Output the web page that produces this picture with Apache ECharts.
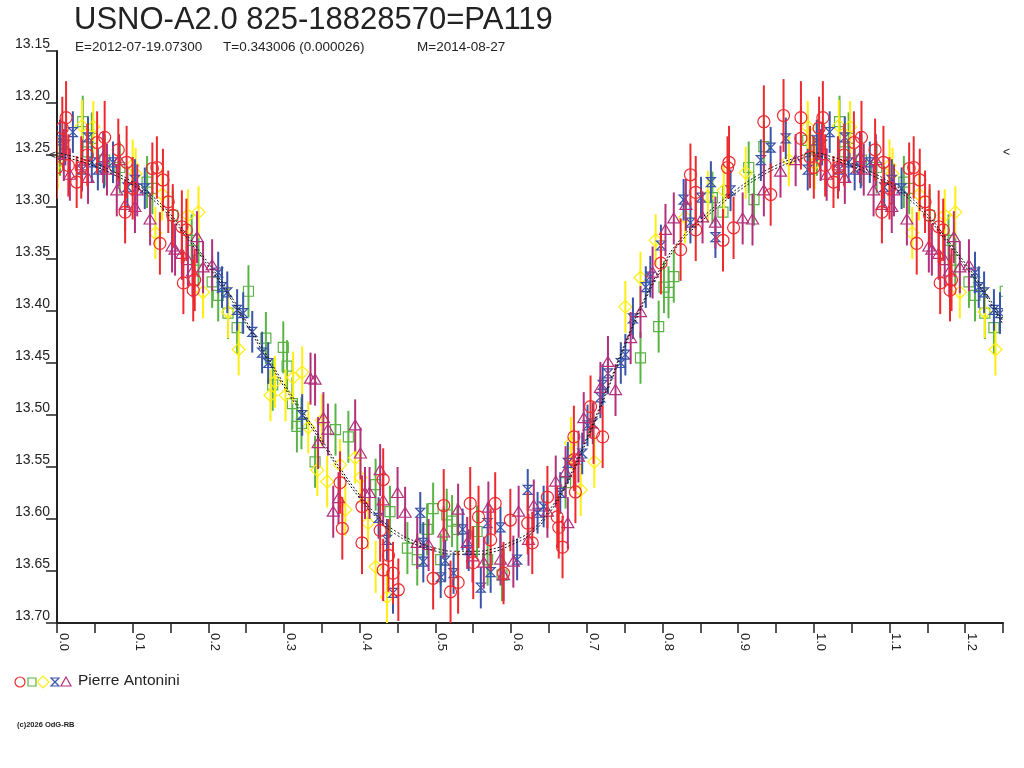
<!DOCTYPE html>
<html>
<head>
<meta charset="utf-8">
<script src="https://cdn.jsdelivr.net/npm/echarts@6/dist/echarts.min.js"></script>
<style>
  html, body { margin: 0; padding: 0; background: #fff; }
  #chart { width: 1024px; height: 768px; }
</style>
</head>
<body>
<div id="chart"></div>
<script>
// observations: [phase, magnitude, error]
const redPts = [
  [0.000,13.262,0.03],[0.007,13.224,0.03],[0.012,13.214,0.035],[0.015,13.260,0.03],[0.026,13.276,0.025],
  [0.032,13.262,0.03],[0.040,13.250,0.03],[0.053,13.238,0.03],[0.063,13.233,0.035],[0.081,13.245,0.03],
  [0.090,13.305,0.03],[0.092,13.257,0.035],[0.100,13.282,0.03],[0.126,13.263,0.025],[0.132,13.262,0.03],
  [0.136,13.335,0.03],[0.140,13.274,0.03],[0.147,13.295,0.03],[0.153,13.308,0.03],[0.165,13.319,0.035],
  [0.167,13.373,0.03],[0.171,13.322,0.03],[0.180,13.380,0.03],[0.182,13.370,0.03],
  [0.374,13.565,0.03],[0.377,13.609,0.03],[0.403,13.588,0.03],[0.403,13.623,0.03],[0.427,13.611,0.03],
  [0.431,13.562,0.03],[0.431,13.649,0.03],[0.438,13.635,0.035],[0.444,13.652,0.03],[0.451,13.668,0.03],
  [0.497,13.657,0.03],[0.511,13.587,0.035],[0.520,13.670,0.03],[0.530,13.661,0.03],[0.546,13.585,0.035],
  [0.550,13.642,0.035],[0.557,13.598,0.03],[0.573,13.620,0.03],[0.579,13.585,0.03],[0.590,13.652,0.03],
  [0.599,13.601,0.03],[0.622,13.604,0.03],[0.628,13.623,0.03],[0.648,13.579,0.03],[0.661,13.598,0.03],
  [0.663,13.608,0.03],[0.668,13.627,0.03],[0.683,13.521,0.03],[0.683,13.543,0.03],[0.685,13.574,0.03],
  [0.705,13.492,0.03],[0.709,13.517,0.03],[0.721,13.521,0.03],[0.798,13.354,0.03],[0.824,13.341,0.03],
  [0.837,13.269,0.03],[0.844,13.286,0.035],[0.844,13.322,0.03],[0.880,13.332,0.03],[0.886,13.262,0.03],
  [0.888,13.257,0.035],[0.894,13.320,0.03],[0.934,13.218,0.035],[0.943,13.288,0.03],[0.960,13.212,0.035],
  [0.983,13.214,0.035],[0.983,13.234,0.03],[0.995,13.252,0.03]
];
const greenPts = [
  [0.004,13.245,0.025],[0.034,13.218,0.025],[0.041,13.247,0.025],[0.046,13.234,0.025],[0.063,13.255,0.025],
  [0.083,13.262,0.025],[0.119,13.276,0.025],[0.126,13.282,0.025],[0.153,13.308,0.025],[0.178,13.332,0.025],
  [0.187,13.351,0.025],[0.205,13.372,0.025],[0.213,13.385,0.025],[0.226,13.402,0.025],[0.238,13.416,0.025],
  [0.253,13.381,0.025],[0.276,13.426,0.025],[0.285,13.471,0.025],[0.299,13.435,0.025],[0.304,13.453,0.025],
  [0.311,13.489,0.025],[0.317,13.511,0.025],[0.323,13.508,0.025],[0.341,13.545,0.025],[0.368,13.514,0.025],
  [0.385,13.521,0.025],[0.421,13.567,0.025],[0.440,13.593,0.025],[0.463,13.628,0.025],[0.476,13.639,0.025],
  [0.489,13.610,0.025],[0.497,13.590,0.025],[0.507,13.639,0.025],[0.515,13.596,0.025],[0.522,13.602,0.025],
  [0.529,13.610,0.025],[0.555,13.612,0.025],[0.569,13.639,0.025],[0.588,13.654,0.025],[0.672,13.565,0.025],
  [0.771,13.445,0.025],[0.795,13.415,0.025],[0.802,13.377,0.025],[0.808,13.382,0.025],[0.815,13.367,0.025],
  [0.866,13.291,0.025],[0.880,13.305,0.025],[0.914,13.262,0.025],[0.921,13.293,0.025],[0.934,13.242,0.025],
  [0.992,13.236,0.025]
];
const yellowPts = [
  [0.001,13.258,0.025],[0.033,13.222,0.025],[0.048,13.223,0.025],[0.100,13.260,0.025],[0.104,13.268,0.025],
  [0.130,13.325,0.025],[0.139,13.288,0.025],[0.173,13.308,0.025],[0.187,13.305,0.025],[0.193,13.382,0.025],
  [0.226,13.401,0.025],[0.240,13.437,0.025],[0.282,13.481,0.025],[0.288,13.468,0.025],[0.302,13.481,0.025],
  [0.312,13.464,0.025],[0.324,13.459,0.025],[0.332,13.512,0.025],[0.344,13.553,0.025],[0.350,13.505,0.025],
  [0.357,13.564,0.025],[0.374,13.548,0.025],[0.381,13.591,0.025],[0.394,13.541,0.025],[0.401,13.560,0.025],
  [0.411,13.604,0.025],[0.421,13.646,0.025],[0.436,13.675,0.025],[0.679,13.527,0.025],[0.692,13.572,0.025],
  [0.710,13.545,0.025],[0.751,13.396,0.025],[0.771,13.368,0.025],[0.791,13.332,0.025],[0.830,13.310,0.025],
  [0.860,13.290,0.025],[0.881,13.284,0.025],[0.910,13.267,0.025],[0.967,13.255,0.025],[0.992,13.223,0.025]
];
const bluePts = [
  [0.004,13.236,0.02],[0.011,13.240,0.02],[0.021,13.228,0.02],[0.033,13.264,0.02],[0.041,13.233,0.02],
  [0.046,13.257,0.02],[0.054,13.264,0.02],[0.062,13.262,0.02],[0.074,13.257,0.02],[0.093,13.281,0.02],
  [0.103,13.274,0.02],[0.116,13.282,0.02],[0.213,13.363,0.02],[0.218,13.377,0.02],[0.225,13.382,0.02],
  [0.238,13.399,0.02],[0.246,13.402,0.02],[0.258,13.420,0.02],[0.271,13.440,0.02],[0.279,13.450,0.02],
  [0.324,13.500,0.02],[0.425,13.599,0.02],[0.436,13.620,0.02],[0.444,13.671,0.02],[0.480,13.594,0.02],
  [0.484,13.623,0.02],[0.484,13.641,0.02],[0.507,13.656,0.02],[0.513,13.640,0.02],[0.524,13.652,0.02],
  [0.536,13.610,0.02],[0.544,13.630,0.02],[0.560,13.666,0.02],[0.569,13.604,0.02],[0.573,13.651,0.02],
  [0.586,13.608,0.02],[0.608,13.639,0.02],[0.622,13.572,0.02],[0.635,13.594,0.02],[0.643,13.588,0.02],
  [0.665,13.575,0.02],[0.675,13.546,0.02],[0.694,13.537,0.02],[0.701,13.510,0.02],[0.708,13.508,0.02],
  [0.718,13.483,0.02],[0.721,13.471,0.02],[0.728,13.460,0.02],[0.745,13.450,0.02],[0.751,13.442,0.02],
  [0.761,13.407,0.02],[0.778,13.377,0.02],[0.784,13.367,0.02],[0.798,13.337,0.02],[0.828,13.293,0.02],
  [0.837,13.315,0.02],[0.851,13.291,0.02],[0.864,13.276,0.02],[0.870,13.329,0.02],[0.890,13.284,0.02],
  [0.930,13.255,0.02],[0.943,13.243,0.02],[0.963,13.234,0.02],[0.992,13.264,0.02]
];
const purplePts = [
  [0.009,13.250,0.025],[0.017,13.269,0.025],[0.033,13.260,0.025],[0.041,13.272,0.025],[0.061,13.252,0.025],
  [0.066,13.264,0.025],[0.079,13.284,0.025],[0.082,13.255,0.025],[0.090,13.298,0.025],[0.103,13.300,0.025],
  [0.106,13.284,0.025],[0.123,13.312,0.025],[0.152,13.338,0.025],[0.156,13.341,0.025],[0.165,13.345,0.025],
  [0.173,13.351,0.025],[0.179,13.362,0.025],[0.185,13.329,0.025],[0.193,13.358,0.025],[0.205,13.356,0.025],
  [0.335,13.465,0.025],[0.341,13.466,0.025],[0.345,13.527,0.025],[0.352,13.503,0.025],[0.358,13.514,0.025],
  [0.365,13.593,0.025],[0.372,13.580,0.025],[0.394,13.510,0.025],[0.401,13.537,0.025],[0.407,13.575,0.025],
  [0.413,13.575,0.025],[0.427,13.553,0.025],[0.431,13.582,0.025],[0.450,13.575,0.025],[0.460,13.594,0.025],
  [0.476,13.623,0.025],[0.491,13.625,0.025],[0.511,13.613,0.025],[0.530,13.591,0.025],[0.542,13.623,0.025],
  [0.549,13.636,0.025],[0.564,13.642,0.025],[0.570,13.589,0.025],[0.586,13.639,0.025],[0.590,13.654,0.025],
  [0.603,13.641,0.025],[0.610,13.593,0.025],[0.623,13.620,0.025],[0.630,13.587,0.025],[0.648,13.593,0.025],
  [0.659,13.564,0.025],[0.672,13.555,0.025],[0.675,13.604,0.025],[0.683,13.543,0.025],[0.689,13.540,0.025],
  [0.696,13.503,0.025],[0.718,13.474,0.025],[0.728,13.449,0.025],[0.738,13.476,0.025],[0.758,13.426,0.025],
  [0.771,13.401,0.025],[0.787,13.363,0.025],[0.804,13.322,0.025],[0.815,13.311,0.025],[0.831,13.298,0.025],
  [0.853,13.310,0.025],[0.870,13.315,0.025],[0.906,13.311,0.025],[0.919,13.312,0.025],[0.934,13.284,0.025],
  [0.956,13.266,0.025],[0.976,13.255,0.025]
];

// fitted light curve, one cycle
const fitPhase = [0.000,0.025,0.050,0.075,0.100,0.125,0.150,0.175,0.200,0.225,0.250,0.275,0.300,0.325,
  0.350,0.375,0.400,0.425,0.450,0.475,0.500,0.525,0.550,0.575,0.600,0.625,0.650,0.675,0.700,0.725,
  0.750,0.775,0.800,0.825,0.850,0.875,0.900,0.925,0.950,0.975,1.000];
const fitMag = [13.248,13.252,13.258,13.266,13.276,13.289,13.307,13.330,13.354,13.380,13.410,13.440,13.470,13.497,
  13.524,13.552,13.577,13.598,13.613,13.622,13.628,13.631,13.631,13.629,13.622,13.612,13.592,13.562,13.522,13.478,
  13.432,13.390,13.356,13.330,13.312,13.296,13.282,13.270,13.260,13.253,13.248];

const yTicks = ['13.15','13.20','13.25','13.30','13.35','13.40','13.45','13.50','13.55','13.60','13.65','13.70'];

const colors = {
  red: '#ee2a2e',
  green: '#5ab445',
  yellow: '#ffee10',
  blue: '#3a54a8',
  purple: '#b3307c'
};

// phase plot repeats the first quarter after 1.0
function extend(pts) {
  return pts.concat(pts.filter(d => d[0] <= 0.26).map(d => [d[0] + 1, d[1], d[2]]));
}

function symbolShape(kind, c, color) {
  const st = { fill: 'none', stroke: color, lineWidth: 1.2 };
  const x = c[0], y = c[1];
  if (kind === 'circle') return { type: 'circle', shape: { cx: x, cy: y, r: 6 }, style: st };
  if (kind === 'square') return { type: 'rect', shape: { x: x - 5, y: y - 5, width: 10, height: 10 }, style: st };
  if (kind === 'diamond') return { type: 'polygon', shape: { points: [[x, y - 6.5], [x + 6.5, y], [x, y + 6.5], [x - 6.5, y]] }, style: st };
  if (kind === 'hourglass') return { type: 'polygon', shape: { points: [[x - 4.5, y - 4.5], [x + 4.5, y - 4.5], [x - 4.5, y + 4.5], [x + 4.5, y + 4.5]] }, style: st };
  return { type: 'polygon', shape: { points: [[x, y - 5.5], [x + 6, y + 4.5], [x - 6, y + 4.5]] }, style: st };
}

function obsSeries(name, pts, kind, color) {
  return {
    name: name,
    type: 'custom',
    clip: true,
    data: extend(pts),
    renderItem: function (params, api) {
      const p = api.value(0), m = api.value(1), e = api.value(2);
      const a = api.coord([p, m - e]);
      const b = api.coord([p, m + e]);
      const c = api.coord([p, m]);
      return {
        type: 'group',
        children: [
          { type: 'line', shape: { x1: a[0], y1: a[1], x2: b[0], y2: b[1] }, style: { stroke: color, lineWidth: 2 } },
          symbolShape(kind, c, color)
        ]
      };
    }
  };
}

const fitData = [];
fitPhase.forEach((p, i) => fitData.push([p, fitMag[i]]));
fitPhase.forEach((p, i) => { if (p > 0 && p <= 0.25) fitData.push([p + 1, fitMag[i]]); });

const chart = echarts.init(document.getElementById('chart'));
const font = 'Liberation Sans, Arial, sans-serif';

const option = {
  animation: false,
  backgroundColor: '#fff',
  grid: { left: 57, right: 21, top: 51, bottom: 145 },
  xAxis: {
    type: 'value',
    min: 0,
    max: 1.25,
    interval: 0.05,
    axisLine: { lineStyle: { color: '#222', width: 2 } },
    axisTick: { inside: false, length: 10, lineStyle: { color: '#222', width: 1.5 } },
    splitLine: { show: false },
    axisLabel: {
      rotate: -90,
      margin: 10,
      verticalAlign: 'bottom',
      fontFamily: font,
      fontSize: 13,
      color: '#222',
      formatter: v => (Math.round(v * 100) % 10 === 0 ? v.toFixed(1) : '')
    }
  },
  yAxis: {
    type: 'value',
    inverse: true,
    min: 13.15,
    max: 13.70,
    interval: 0.05,
    axisLine: { lineStyle: { color: '#222', width: 2 } },
    axisTick: { length: 11, lineStyle: { color: '#222', width: 1.5 } },
    splitLine: { show: false },
    axisLabel: {
      margin: 7,
      verticalAlign: 'bottom',
      fontFamily: font,
      fontSize: 14,
      color: '#222',
      formatter: v => yTicks[Math.round((v - 13.15) / 0.05)] || v.toFixed(2)
    }
  },
  graphic: [
    { type: 'text', left: 74, top: 5, style: { text: 'USNO-A2.0 825-18828570=PA119', font: '31px ' + font, fill: '#222' } },
    { type: 'text', left: 75, top: 40, style: { text: 'E=2012-07-19.07300', font: '13.5px ' + font, fill: '#222' } },
    { type: 'text', left: 223, top: 40, style: { text: 'T=0.343006 (0.000026)', font: '13.5px ' + font, fill: '#222' } },
    { type: 'text', left: 417, top: 40, style: { text: 'M=2014-08-27', font: '13.5px ' + font, fill: '#222' } },
    { type: 'text', left: 1003, top: 147, style: { text: '<', font: '12px ' + font, fill: '#222' } },
    { type: 'text', left: 49, top: 150, style: { text: '<', font: '12px ' + font, fill: '#222' } },
    // legend
    { type: 'circle', shape: { cx: 20, cy: 682, r: 5 }, style: { fill: 'none', stroke: colors.red, lineWidth: 1.2 } },
    { type: 'rect', shape: { x: 28, y: 678, width: 8, height: 8 }, style: { fill: 'none', stroke: colors.green, lineWidth: 1.2 } },
    { type: 'polygon', shape: { points: [[43, 676], [49, 682], [43, 688], [37, 682]] }, style: { fill: 'none', stroke: colors.yellow, lineWidth: 1.2 } },
    { type: 'polygon', shape: { points: [[51, 678], [59, 678], [51, 686], [59, 686]] }, style: { fill: 'none', stroke: colors.blue, lineWidth: 1.2 } },
    { type: 'polygon', shape: { points: [[66, 677], [71, 686], [61, 686]] }, style: { fill: 'none', stroke: colors.purple, lineWidth: 1.2 } },
    { type: 'text', left: 78, top: 673, style: { text: 'Pierre Antonini', font: '15.5px ' + font, fill: '#222' } },
    { type: 'text', left: 17, top: 721, style: { text: '(c)2026 OdG-RB', font: 'bold 7.5px ' + font, fill: '#222' } }
  ],
  series: [
    obsSeries('green', greenPts, 'square', colors.green),
    obsSeries('yellow', yellowPts, 'diamond', colors.yellow),
    obsSeries('blue', bluePts, 'hourglass', colors.blue),
    obsSeries('purple', purplePts, 'triangle', colors.purple),
    obsSeries('red', redPts, 'circle', colors.red),
    {
      name: 'fit',
      type: 'line',
      data: fitData,
      showSymbol: false,
      smooth: true,
      z: 5,
      lineStyle: {
        color: '#111',
        width: 1,
        type: [2, 2],
        shadowColor: '#111',
        shadowBlur: 0,
        shadowOffsetY: 3
      }
    }
  ]
};

chart.setOption(option);
</script>
</body>
</html>
